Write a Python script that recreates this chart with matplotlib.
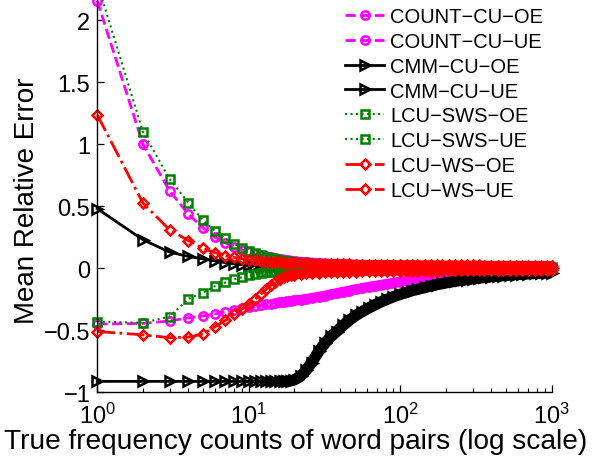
import numpy as np
import matplotlib
matplotlib.use("Agg")
import matplotlib.pyplot as plt
from matplotlib.ticker import FixedLocator, FixedFormatter, LogLocator, NullFormatter

plt.rcParams["font.family"] = ["Liberation Sans", "DejaVu Sans"]
plt.rcParams["mathtext.fontset"] = "custom"
plt.rcParams["mathtext.rm"] = "Liberation Sans"
plt.rcParams["mathtext.default"] = "rm"

# === data ===
counts = [1, 2, 3, 4, 5, 6, 7, 8, 9, 10, 11, 12, 13, 14, 15, 16, 17, 18, 19, 20,
          22, 24, 26, 29, 32, 35, 38, 42, 46, 51,
          56, 62, 68, 75, 82, 90, 100,
          110, 120, 130, 145, 160, 175, 190,
          210, 230, 250, 275, 300, 330, 360, 400,
          440, 480, 530, 580, 640, 700, 770, 850, 930, 1000]

count_cu_oe = [2.155, 1.00, 0.625, 0.435, 0.325, 0.25, 0.205, 0.172, 0.148, 0.13,
               0.116, 0.104, 0.095, 0.087, 0.08, 0.074, 0.069, 0.064, 0.06, 0.057,
               0.052, 0.048, 0.045, 0.041, 0.038, 0.036, 0.034, 0.032, 0.030, 0.028,
               0.027, 0.026, 0.025, 0.024, 0.023, 0.022, 0.021,
               0.021, 0.020, 0.020, 0.019, 0.019, 0.018, 0.018,
               0.018, 0.017, 0.017, 0.017, 0.016, 0.016, 0.016, 0.015,
               0.015, 0.015, 0.014, 0.014, 0.014, 0.014, 0.013, 0.013, 0.013, 0.013]
count_cu_ue = [-0.45, -0.445, -0.425, -0.40, -0.384, -0.368, -0.352, -0.335, -0.322, -0.312,
               -0.303, -0.296, -0.29, -0.285, -0.28, -0.276, -0.272, -0.268, -0.264, -0.26,
               -0.254, -0.247, -0.24, -0.23, -0.22, -0.21, -0.202, -0.19, -0.18, -0.17,
               -0.16, -0.15, -0.142, -0.133, -0.125, -0.117, -0.108,
               -0.10, -0.094, -0.088, -0.08, -0.073, -0.066, -0.06,
               -0.053, -0.047, -0.042, -0.037, -0.033, -0.029, -0.026, -0.023,
               -0.021, -0.019, -0.017, -0.015, -0.014, -0.013, -0.012, -0.011, -0.010, -0.010]
cmm_cu_oe = [0.48, 0.23, 0.13, 0.095, 0.075, 0.058, 0.045, 0.035, 0.028, 0.023,
             0.019, 0.016, 0.014, 0.012, 0.011, 0.010, 0.009, 0.008, 0.008, 0.007,
             0.007, 0.006, 0.006, 0.005, 0.005, 0.005, 0.004, 0.004, 0.004, 0.004,
             0.003, 0.003, 0.003, 0.003, 0.003, 0.003, 0.003,
             0.003, 0.003, 0.002, 0.002, 0.002, 0.002, 0.002,
             0.002, 0.002, 0.002, 0.002, 0.002, 0.002, 0.002, 0.002,
             0.001, 0.001, 0.001, 0.001, 0.001, 0.001, 0.001, 0.001, 0.001, 0.001]
cmm_cu_ue = [-0.912, -0.912, -0.912, -0.912, -0.912, -0.912, -0.912, -0.912, -0.912, -0.912,
             -0.912, -0.912, -0.912, -0.912, -0.912, -0.912, -0.912, -0.91, -0.907, -0.90,
             -0.87, -0.82, -0.76, -0.67, -0.60, -0.55, -0.51, -0.46, -0.42, -0.38,
             -0.35, -0.32, -0.295, -0.27, -0.25, -0.23, -0.21,
             -0.195, -0.18, -0.17, -0.155, -0.142, -0.132, -0.123,
             -0.113, -0.105, -0.098, -0.091, -0.085, -0.079, -0.074, -0.068,
             -0.063, -0.059, -0.055, -0.051, -0.048, -0.045, -0.042, -0.039, -0.037, -0.035]
lcu_sws_oe = [2.30, 1.10, 0.72, 0.526, 0.385, 0.30, 0.24, 0.197, 0.165, 0.14,
              0.12, 0.105, 0.093, 0.083, 0.075, 0.068, 0.062, 0.057, 0.053, 0.049,
              0.044, 0.040, 0.037, 0.033, 0.030, 0.028, 0.026, 0.024, 0.022, 0.021,
              0.020, 0.019, 0.018, 0.017, 0.016, 0.016, 0.015,
              0.015, 0.014, 0.014, 0.013, 0.013, 0.013, 0.012,
              0.012, 0.012, 0.011, 0.011, 0.011, 0.010, 0.010, 0.010,
              0.010, 0.009, 0.009, 0.009, 0.009, 0.008, 0.008, 0.008, 0.008, 0.008]
lcu_sws_ue = [-0.43, -0.44, -0.39, -0.245, -0.197, -0.143, -0.115, -0.09, -0.072, -0.058,
              -0.048, -0.04, -0.034, -0.029, -0.025, -0.022, -0.02, -0.018, -0.017, -0.016,
              -0.015, -0.014, -0.013, -0.012, -0.011, -0.011, -0.010, -0.010, -0.009, -0.009,
              -0.008, -0.008, -0.008, -0.008, -0.007, -0.007, -0.007,
              -0.007, -0.007, -0.006, -0.006, -0.006, -0.006, -0.006,
              -0.006, -0.006, -0.005, -0.005, -0.005, -0.005, -0.005, -0.005,
              -0.005, -0.005, -0.004, -0.004, -0.004, -0.004, -0.004, -0.004, -0.004, -0.004]
lcu_ws_oe = [1.235, 0.526, 0.31, 0.223, 0.16, 0.125, 0.10, 0.087, 0.077, 0.069,
             0.063, 0.058, 0.054, 0.051, 0.049, 0.047, 0.045, 0.044, 0.043, 0.042,
             0.041, 0.040, 0.038, 0.037, 0.035, 0.034, 0.033, 0.032, 0.031, 0.030,
             0.029, 0.029, 0.028, 0.028, 0.027, 0.027, 0.026,
             0.026, 0.026, 0.025, 0.025, 0.025, 0.024, 0.024,
             0.024, 0.024, 0.023, 0.023, 0.023, 0.023, 0.022, 0.022,
             0.022, 0.022, 0.021, 0.021, 0.021, 0.021, 0.020, 0.020, 0.020, 0.020]
lcu_ws_ue = [-0.51, -0.537, -0.56, -0.555, -0.53, -0.47, -0.42, -0.37, -0.33, -0.29,
             -0.25, -0.21, -0.17, -0.135, -0.108, -0.088, -0.074, -0.064, -0.057, -0.052,
             -0.046, -0.042, -0.039, -0.036, -0.034, -0.032, -0.030, -0.029, -0.028, -0.027,
             -0.026, -0.025, -0.024, -0.024, -0.023, -0.022, -0.022,
             -0.021, -0.021, -0.020, -0.020, -0.019, -0.019, -0.018,
             -0.018, -0.017, -0.017, -0.016, -0.016, -0.015, -0.015, -0.014,
             -0.014, -0.014, -0.013, -0.013, -0.013, -0.012, -0.012, -0.012, -0.011, -0.011]

labels = ["COUNT\u2212CU\u2212OE", "COUNT\u2212CU\u2212UE", "CMM\u2212CU\u2212OE", "CMM\u2212CU\u2212UE",
          "LCU\u2212SWS\u2212OE", "LCU\u2212SWS\u2212UE", "LCU\u2212WS\u2212OE", "LCU\u2212WS\u2212UE"]
series = [count_cu_oe, count_cu_ue, cmm_cu_oe, cmm_cu_ue,
          lcu_sws_oe, lcu_sws_ue, lcu_ws_oe, lcu_ws_ue]

# (color, linestyle, marker, markersize, linewidth)
styles = [("#ff00ff", "--", "o", 6, 2.0),
          ("#ff00ff", "--", "o", 6, 2.0),
          ("black", "-", ">", 7, 2.0),
          ("black", "-", ">", 7, 2.0),
          ("#008000", ":", "s", 5.5, 1.5),
          ("#008000", ":", "s", 5.5, 1.5),
          ("red", "-.", "D", 5.5, 2.0),
          ("red", "-.", "D", 5.5, 2.0)]

fig = plt.figure(figsize=(6.01, 4.6), dpi=100)
ax = fig.add_axes([97.3 / 601, (460 - 393.3) / 460, (551.7 - 97.3) / 601, 393.3 / 460])

# where the markers crowd together (>= 15) they merge into a solid band
dense = counts.index(15)
for vals, lab, (col, ls, mk, ms, lw) in zip(series, labels, styles):
    ax.plot(counts[dense:], vals[dense:], color=col, linestyle="-",
            linewidth=ms + 1.2, solid_capstyle="butt", clip_on=False)
    ax.plot(counts, vals, color=col, linestyle=ls, marker=mk, markersize=ms,
            linewidth=lw, markerfacecolor="none", markeredgewidth=1.8,
            label=lab, clip_on=False)

ax.set_xscale("log")
ax.set_xlim(1, 1000)
ax.set_ylim(-1, 2.17)

ax.xaxis.set_major_locator(LogLocator(base=10, numticks=10))
ax.xaxis.set_minor_locator(LogLocator(base=10, subs=np.arange(2, 10), numticks=20))
ax.xaxis.set_minor_formatter(NullFormatter())
ax.yaxis.set_major_locator(FixedLocator([-1, -0.5, 0, 0.5, 1, 1.5, 2]))
ax.yaxis.set_major_formatter(FixedFormatter(["\u22121", "\u22120.5", "0", "0.5", "1", "1.5", "2"]))

for side in ["top", "right"]:
    ax.spines[side].set_visible(False)
for side in ["left", "bottom"]:
    ax.spines[side].set_linewidth(1.0)

ax.tick_params(which="both", direction="in", top=False, right=False)
ax.tick_params(which="major", length=5, width=0.9, labelsize=17)
ax.tick_params(axis="y", which="major", pad=5)
ax.tick_params(axis="x", which="major", pad=7.5)
ax.tick_params(which="minor", length=3, width=0.8)

ax.set_xlabel("True frequency counts of word pairs (log scale)", fontsize=20.2)
ax.xaxis.set_label_coords(0.437, -0.092)
ax.set_ylabel("Mean Relative Error", fontsize=20)
ax.yaxis.set_label_coords(-0.126, 0.49)

ax.legend(loc="upper left", bbox_to_anchor=(345 / 601, 1 - 8 / 460),
          bbox_transform=fig.transFigure, frameon=False, fontsize=14.5,
          borderpad=0, borderaxespad=0, labelspacing=0.29,
          handlelength=1.95, handletextpad=0.3, numpoints=1)

fig.savefig("out.png", dpi=100)
